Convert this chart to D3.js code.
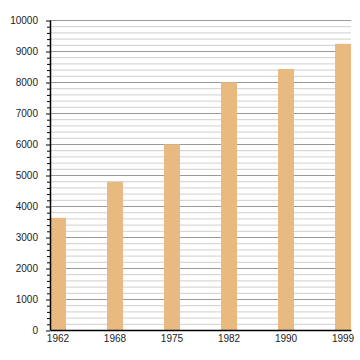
<!DOCTYPE html>
<html>
<head>
<meta charset="utf-8">
<script src="https://cdn.jsdelivr.net/npm/d3@7"></script>
<style>
  body { margin: 0; background: #fff; }
  text { font-family: "Liberation Sans", Arial, sans-serif; font-size: 10px; fill: #222; }
</style>
</head>
<body>
<div id="chart"></div>
<script>
// data
var years = ["1962", "1968", "1975", "1982", "1990", "1999"];
var population = [3620, 4780, 5990, 7990, 8420, 9230];
var yTicks = [0, 1000, 2000, 3000, 4000, 5000, 6000, 7000, 8000, 9000, 10000];

// set the dimensions and margins of the graph
var margin = {top: 20, right: 9, bottom: 30, left: 50},
    width = 360 - margin.left - margin.right,
    height = 360 - margin.top - margin.bottom;

var svg = d3.select("#chart").append("svg")
    .attr("width", 360)
    .attr("height", 360)
    .append("g")
    .attr("transform", "translate(" + margin.left + "," + margin.top + ")");

// set the ranges
var x = d3.scaleBand().domain(years).range([0, width]).paddingInner(0.72).paddingOuter(0);
var y = d3.scaleLinear().domain([0, 10000]).range([height, 0]);

// minor grid every 200, major every 1000
var minor = d3.range(200, 10001, 200).filter(function(d) { return d % 1000 != 0; });
svg.selectAll(".minor").data(minor).enter().append("line")
    .attr("x1", 0).attr("x2", width)
    .attr("y1", function(d) { return y(d) + 0.5; })
    .attr("y2", function(d) { return y(d) + 0.5; })
    .attr("stroke", "#cfcfcf");
svg.selectAll(".major").data(yTicks.slice(1)).enter().append("line")
    .attr("x1", 0).attr("x2", width)
    .attr("y1", function(d) { return y(d) + 0.5; })
    .attr("y2", function(d) { return y(d) + 0.5; })
    .attr("stroke", "#9a9a9a");

// bars
svg.selectAll(".bar").data(population).enter().append("rect")
    .attr("x", function(d, i) { return x(years[i]); })
    .attr("width", x.bandwidth())
    .attr("y", function(d) { return y(d); })
    .attr("height", function(d) { return height - y(d); })
    .attr("fill", "#e9ba7f");

// y axis with minor ticks
var yMinor = svg.append("g")
    .call(d3.axisLeft(y).tickValues(minor).tickSize(3).tickFormat(""));
yMinor.select(".domain").remove();
yMinor.selectAll("line").attr("stroke", "#000").attr("transform", "translate(0,0.5)");

var yAxis = svg.append("g")
    .call(d3.axisLeft(y).tickValues(yTicks).tickSize(4).tickSizeOuter(0).tickPadding(8).tickFormat(d3.format("d")));
yAxis.select(".domain").attr("stroke", "#000").attr("stroke-width", 1.5);
yAxis.selectAll("line").attr("stroke", "#000").attr("transform", "translate(0,0.5)");
yAxis.selectAll("text").style("font-size", "10px").attr("fill", "#222");

// x axis
var xAxis = svg.append("g")
    .attr("transform", "translate(0," + height + ")")
    .call(d3.axisBottom(x).tickSize(0).tickPadding(5));
xAxis.select(".domain").attr("stroke", "#000").attr("stroke-width", 1.5);
xAxis.selectAll("text").style("font-size", "10px").attr("fill", "#222");
</script>
</body>
</html>
